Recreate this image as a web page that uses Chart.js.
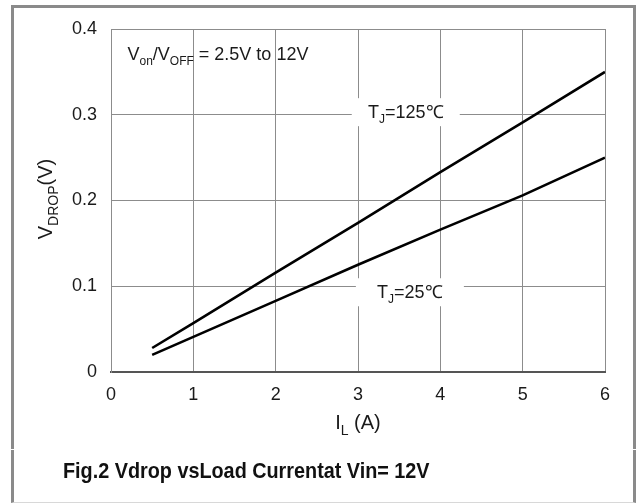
<!DOCTYPE html>
<html>
<head>
<meta charset="utf-8">
<script src="https://cdn.jsdelivr.net/npm/chart.js@4/dist/chart.umd.min.js"></script>
<style>
  html, body { margin: 0; padding: 0; background: #fff; }
  #wrap { position: relative; width: 636px; height: 504px; overflow: hidden; }
  #chart { position: absolute; left: 0; top: 0; }
  .frame-top { position: absolute; left: 11px; top: 5px; width: 619px; height: 441px;
    border: 3px solid #8a8a8a; border-bottom: none; }
  .frame-bot { position: absolute; left: 11px; top: 450px; width: 619px; height: 52px;
    border-left: 3px solid #8a8a8a; border-right: 3px solid #8a8a8a; border-bottom: 1px solid #d8d8d8; }
  #caption { position: absolute; left: 63px; top: 460px; font: bold 22px "Liberation Sans", Arial, sans-serif;
    line-height: 22px; color: #111; white-space: nowrap; transform: scaleX(0.9); transform-origin: left top; }
</style>
</head>
<body>
<div id="wrap">
  <div class="frame-top"></div>
  <div class="frame-bot"></div>
  <canvas id="chart" width="636" height="504"></canvas>
  <div id="caption">Fig.2 Vdrop vsLoad Currentat Vin= 12V</div>
</div>
<script>
// valori
var currentA = [0.5, 1, 2, 3, 4, 5, 6];
var vdrop125 = [0.028, 0.057, 0.116, 0.174, 0.233, 0.291, 0.350];
var vdrop25 = [0.020, 0.041, 0.083, 0.125, 0.166, 0.206, 0.250];
var xTicks = [0, 1, 2, 3, 4, 5, 6];
var yTicks = [0, 0.1, 0.2, 0.3, 0.4];

var FONT = '"Liberation Sans", Arial, sans-serif';

// testo con pedici: [[testo, isSub], ...]
function richWidth(ctx, segs, big, small) {
    var w = 0;
    segs.forEach(function(s) {
        ctx.font = (s[1] ? small : big) + 'px ' + FONT;
        w += ctx.measureText(s[0]).width;
    });
    return w;
}
function drawRich(ctx, segs, x, y, big, small) {
    segs.forEach(function(s) {
        ctx.font = (s[1] ? small : big) + 'px ' + FONT;
        ctx.fillText(s[0], x, s[1] ? y + big * 0.28 : y);
        x += ctx.measureText(s[0]).width;
    });
}

var labelsPlugin = {
    id: 'labels',
    afterDatasetsDraw: function(chart) {
        var ctx = chart.ctx, xs = chart.scales.x, ys = chart.scales.y;
        ctx.save();
        ctx.fillStyle = '#1a1a1a';
        ctx.textBaseline = 'alphabetic';
        ctx.textAlign = 'left';

        // Von/VOFF
        drawRich(ctx, [['V', 0], ['on', 1], ['/V', 0], ['OFF', 1], [' = 2.5V to 12V', 0]],
            xs.getPixelForValue(0.2), ys.getPixelForValue(0.364), 18, 12);

        // etichette temperature con sfondo bianco
        var tags = [
            { segs: [['T', 0], ['J', 1], ['=125\u2103', 0]], x: 3.58, y: 0.303, bw: 108 },
            { segs: [['T', 0], ['J', 1], ['=25\u2103', 0]], x: 3.63, y: 0.093, bw: 108 }
        ];
        tags.forEach(function(t) {
            var cx = xs.getPixelForValue(t.x), cy = ys.getPixelForValue(t.y);
            var w = richWidth(ctx, t.segs, 18, 12);
            ctx.fillStyle = '#fff';
            ctx.fillRect(cx - t.bw / 2, cy - 14, t.bw, 28);
            ctx.fillStyle = '#1a1a1a';
            drawRich(ctx, t.segs, cx - w / 2, cy + 6, 18, 12);
        });

        // titolo asse y
        var ySegs = [['V', 0], ['DROP', 1], ['(V)', 0]];
        ctx.save();
        ctx.translate(52, 199);
        ctx.rotate(-Math.PI / 2);
        var wy = richWidth(ctx, ySegs, 20, 14);
        drawRich(ctx, ySegs, -wy / 2, 0, 20, 14);
        ctx.restore();

        // titolo asse x
        var xSegs = [['I', 0], ['L', 1], [' (A)', 0]];
        var wx = richWidth(ctx, xSegs, 20, 14);
        drawRich(ctx, xSegs, 358 - wx / 2, 429, 20, 14);
        ctx.restore();
    }
};

function toPoints(ys) {
    return currentA.map(function(x, i) { return { x: x, y: ys[i] }; });
}

new Chart(document.getElementById('chart'), {
    type: 'line',
    data: {
        datasets: [
            { label: 'TJ=125\u2103', data: toPoints(vdrop125), borderColor: '#000', borderWidth: 2.6, pointRadius: 0, tension: 0 },
            { label: 'TJ=25\u2103', data: toPoints(vdrop25), borderColor: '#000', borderWidth: 2.6, pointRadius: 0, tension: 0 }
        ]
    },
    options: {
        responsive: false,
        animation: false,
        layout: { padding: { top: 29, right: 31, left: 0, bottom: 0 } },
        plugins: { legend: { display: false }, tooltip: { enabled: false } },
        scales: {
            x: {
                type: 'linear', min: 0, max: 6,
                afterBuildTicks: function(s) { s.ticks = xTicks.map(function(v) { return { value: v }; }); },
                afterFit: function(s) { s.height = 132; },
                ticks: { color: '#1a1a1a', font: { family: FONT, size: 18 }, padding: 12 },
                grid: { color: '#8c8c8c', lineWidth: 1, drawTicks: false },
                border: { color: '#555', width: 2 }
            },
            y: {
                type: 'linear', min: 0, max: 0.4,
                afterBuildTicks: function(s) { s.ticks = yTicks.map(function(v) { return { value: v }; }); },
                afterFit: function(s) { s.width = 111; },
                ticks: {
                    color: '#1a1a1a', font: { family: FONT, size: 18 }, padding: 14,
                    callback: function(v) { return v === 0 ? '0' : v.toFixed(1); }
                },
                grid: { color: '#8c8c8c', lineWidth: 1, drawTicks: false },
                border: { color: '#8c8c8c', width: 1 }
            }
        }
    },
    plugins: [labelsPlugin]
});
</script>
</body>
</html>
